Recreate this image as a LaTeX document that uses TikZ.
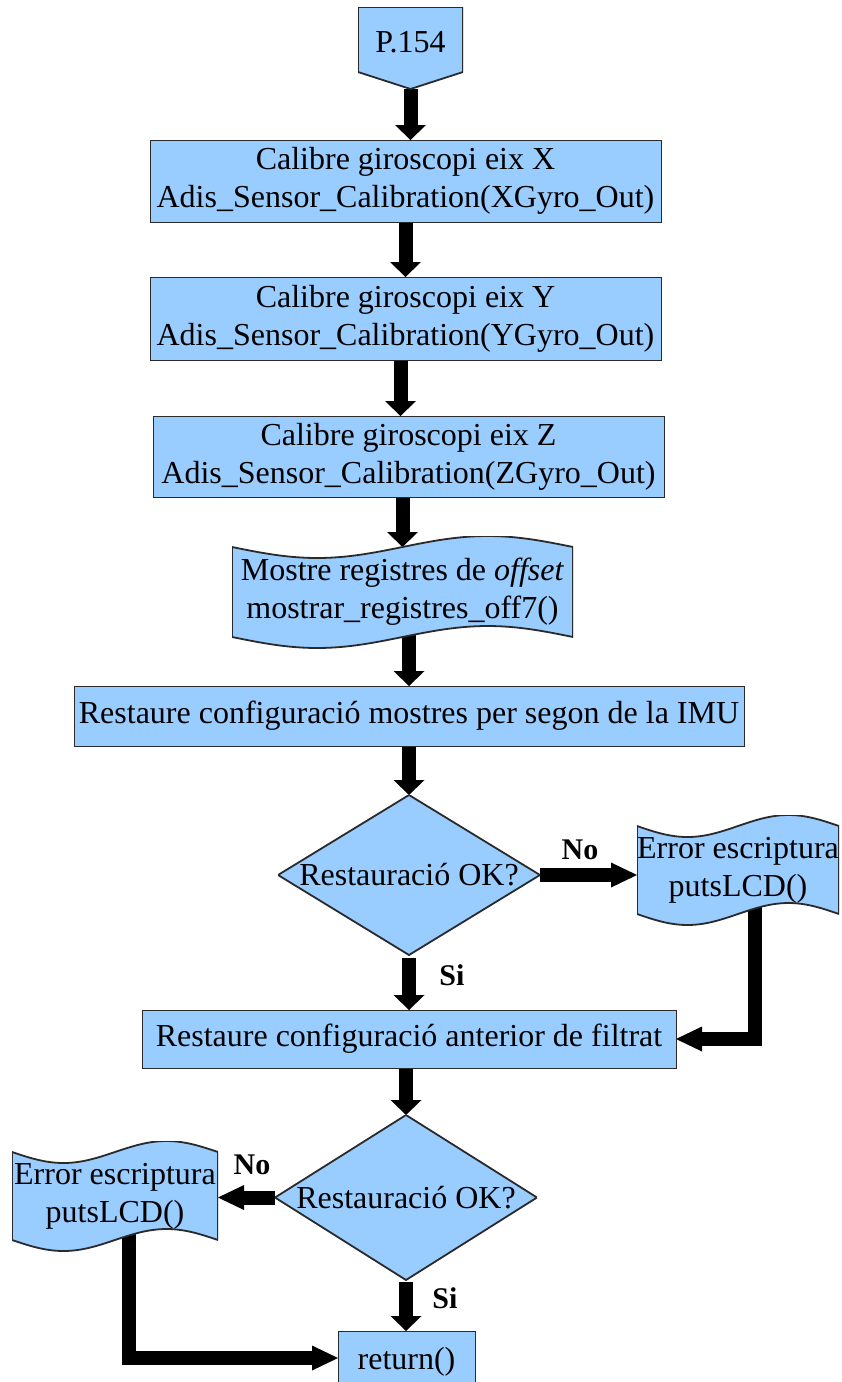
\documentclass[tikz,border=0pt]{standalone}
\usepackage{fontspec}
\setmainfont{Liberation Serif}
\usetikzlibrary{arrows.meta,calc}
\definecolor{flow}{HTML}{99CCFF}
\definecolor{edge}{HTML}{2A2A2A}
\pgfdeclarelayer{background}
\pgfsetlayers{background,main}

\begin{document}
\begin{tikzpicture}[x=1pt,y=-1pt,
  base/.style={font=\fontsize{32}{38}\selectfont, align=center, inner sep=0pt, outer sep=0pt},
  procbox/.style={base, draw=edge, fill=flow, line width=0.9pt},
  decision/.style={base, path picture={
      \filldraw[fill=flow, draw=edge, line width=1.8pt]
        (path picture bounding box.north) -- (path picture bounding box.east)
        -- (path picture bounding box.south) -- (path picture bounding box.west) -- cycle;}},
  tape/.style={base, path picture={
      \filldraw[fill=flow, draw=edge, line width=1.8pt]
        let \p1=(path picture bounding box.north west),
            \p2=(path picture bounding box.south east) in
        (\x1,\y1-11pt) sin ({\x1+(\x2-\x1)/4},\y1-22pt) cos ({\x1+(\x2-\x1)/2},\y1-11pt)
        sin ({\x1+3*(\x2-\x1)/4},\y1) cos (\x2,\y1-11pt)
        -- (\x2,\y2+11pt) sin ({\x2-(\x2-\x1)/4},\y2+22pt) cos ({\x2-(\x2-\x1)/2},\y2+11pt)
        sin ({\x2-3*(\x2-\x1)/4},\y2) cos (\x1,\y2+11pt) -- cycle;}},
  offpage/.style={base, path picture={
      \filldraw[fill=flow, draw=edge, line width=1.8pt]
        (path picture bounding box.north west) -- (path picture bounding box.north east)
        -- ([yshift=17pt]path picture bounding box.south east)
        -- (path picture bounding box.south)
        -- ([yshift=17pt]path picture bounding box.south west) -- cycle;}},
  lbl/.style={font=\fontsize{30}{36}\selectfont\bfseries, inner sep=0pt},
  varrow/.style={line width=14pt, draw=black, -{Triangle[width=31pt,length=15pt,line width=0pt]}},
  harrow/.style={line width=14pt, draw=black, -{Triangle[width=25pt,length=26pt,line width=0pt]}},
]
\useasboundingbox (0,0) rectangle (841,1382);

% flow steps
\node[offpage, minimum width=105pt, minimum height=82pt] (p154) at (410.5,48)
  {\raisebox{-4pt}[0pt][0pt]{P.154}};
\node[procbox, minimum width=511pt, minimum height=82pt] (b1) at (405.5,181)
  {Calibre giroscopi eix X\\Adis\_Sensor\_Calibration(XGyro\_Out)};
\node[procbox, minimum width=511pt, minimum height=83pt] (b2) at (405.5,318.5)
  {Calibre giroscopi eix Y\\Adis\_Sensor\_Calibration(YGyro\_Out)};
\node[procbox, minimum width=511pt, minimum height=81pt] (b3) at (408.5,456.5)
  {Calibre giroscopi eix Z\\Adis\_Sensor\_Calibration(ZGyro\_Out)};
\node[tape, minimum width=341pt, minimum height=112pt] (m) at (402.5,592)
  {Mostre registres de \textit{offset}\\mostrar\_registres\_off7()};
\node[procbox, minimum width=670pt, minimum height=60pt] (w) at (409,716)
  {Restaure configuració mostres per segon de la IMU};
\node[decision, minimum width=262pt, minimum height=160pt] (d1) at (409,875)
  {Restauració OK?};
\node[tape, minimum width=202pt, minimum height=110pt] (e1) at (738,870)
  {Error escriptura\\putsLCD()};
\node[procbox, minimum width=534pt, minimum height=58pt] (a) at (409,1039)
  {Restaure configuració anterior de filtrat};
\node[decision, minimum width=262pt, minimum height=165pt] (d2) at (406,1197.5)
  {Restauració OK?};
\node[tape, minimum width=206pt, minimum height=110pt] (e2) at (115,1196)
  {Error escriptura\\putsLCD()};
\node[procbox, minimum width=137pt, minimum height=62pt] (r) at (406.5,1362)
  {return()};

% branch labels
\node[lbl] (no1) at (580,850) {No};
\node[lbl] (si1) at (452,975) {Si};
\node[lbl] (no2) at (252,1165) {No};
\node[lbl] (si2) at (445,1298) {Si};

% connectors, kept behind the shapes
\begin{pgfonlayer}{background}
\draw[varrow] (p154.south) -- (b1.north -| p154.south);
\draw[varrow] (b1.south) -- (b2.north);
\coordinate (c3) at ([xshift=-5pt]b2.south);
\draw[varrow] (c3) -- (b3.north -| c3);
\draw[varrow] (b3.south -| m.north) -- ([yshift=-11pt]m.north);
\draw[varrow] (m.center -| w.north) -- (w.north);
\draw[varrow] (w.south) -- (d1.north);
\draw[varrow] ([yshift=-3pt]d1.south) -- (a.north -| d1.south);
\draw[harrow] (d1.east) -- (d1.east -| e1.west);
\draw[harrow] ([xshift=17pt]e1.center) |- (a.east);
\draw[varrow] (a.south -| d2.north) -- (d2.north);
\draw[harrow] (d2.west) -- (d2.west -| e2.east);
\draw[varrow] ([yshift=-2pt]d2.south) -- (r.north -| d2.south);
\draw[harrow] ([xshift=14pt]e2.center) |- ([yshift=4pt]r.west);
\end{pgfonlayer}
\end{tikzpicture}
\end{document}
